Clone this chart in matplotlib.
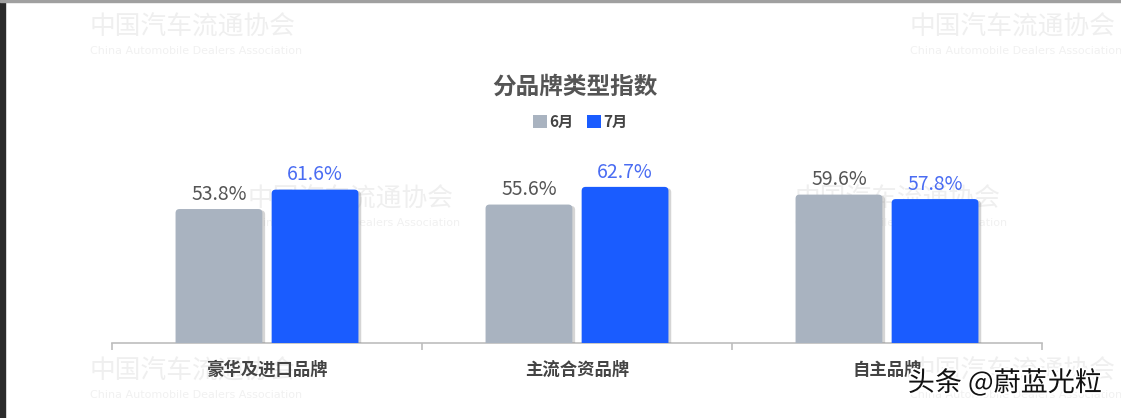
import matplotlib.pyplot as plt
from matplotlib.patches import FancyBboxPatch, Rectangle
import matplotlib.patheffects as pe

plt.rcParams['font.family'] = ['Noto Sans CJK SC', 'DejaVu Sans']

categories = ["豪华及进口品牌", "主流合资品牌", "自主品牌"]
june = [53.8, 55.6, 59.6]
july = [61.6, 62.7, 57.8]
series_names = ["6月", "7月"]
title = "分品牌类型指数"

gray_c = "#a9b3c0"
blue_c = "#1a5cff"

W, H = 1121, 418
fig = plt.figure(figsize=(W / 100, H / 100), dpi=100)
fig.patch.set_facecolor("white")

# faint background watermarks (behind everything)
bg = fig.add_axes([0, 0, 1, 1], zorder=-1)
bg.set_axis_off()
bg.set_xlim(0, W)
bg.set_ylim(H, 0)
wm_pos = [(90, 28), (910, 28), (248, 200), (795, 200), (90, 372), (910, 372)]
for px, py in wm_pos:
    bg.text(px, py, "中国汽车流通协会", fontsize=18.5, color="#efefef",
            va="center", ha="left")
    bg.text(px, py + 23, "China Automobile Dealers Association",
            fontsize=8, color="#f1f1f1", va="center", ha="left",
            family=["DejaVu Sans"])

# frame bits of the screenshot
fig.patches.append(Rectangle((0, 0), 5 / W, 1, transform=fig.transFigure,
                             color="#2b2b2b", zorder=5))
fig.patches.append(Rectangle((0, 1 - 2 / H), 1, 2 / H, transform=fig.transFigure,
                             color="#a0a0a0", zorder=5))

ax = fig.add_axes([112 / W, 75 / H, 930 / W, 243 / H], zorder=1)
ax.set_facecolor("none")
ax.set_xlim(-0.5, 2.5)
ax.set_ylim(0, 243 / 2.49)

bw = 0.28
off = 0.155
# rounding: x units per px vs y units per px
r = 4 / 310
aspect = (1 / 2.49) / (1 / 310)

for i in range(len(categories)):
    for vals, sign, col, tcol in [(june, -1, gray_c, "#555555"), (july, 1, blue_c, "#4a6cf2")]:
        x0 = i + sign * off - bw / 2
        v = vals[i]
        p = FancyBboxPatch((x0, -5), bw, v + 5,
                           boxstyle=f"round,pad=0,rounding_size={r}",
                           mutation_aspect=aspect, facecolor=col, edgecolor="none",
                           zorder=3)
        p.set_path_effects([pe.SimplePatchShadow(offset=(2, -1), shadow_rgbFace="#888888",
                                                 alpha=0.35), pe.Normal()])
        ax.add_patch(p)
        ax.annotate(f"{v}%", (i + sign * off, v), xytext=(0, 3), textcoords="offset points",
                    ha="center", va="bottom", fontsize=14, color=tcol, zorder=4)

for s in ["top", "right", "left"]:
    ax.spines[s].set_visible(False)
ax.spines["bottom"].set_color("#bdbdbd")
ax.spines["bottom"].set_linewidth(1.2)
ax.set_yticks([])
ax.set_xticks(range(len(categories)))
ax.set_xticklabels(categories, fontsize=12.5, fontweight="bold", color="#444444")
ax.tick_params(axis="x", which="major", length=0, pad=13)
ax.set_xticks([-0.5, 0.5, 1.5, 2.5], minor=True)
ax.tick_params(axis="x", which="minor", length=5, color="#bdbdbd", width=1.2)

fig.text(575 / W, 1 - 87 / H, title, fontsize=17, fontweight="bold", color="#555555",
         ha="center", va="center")

# legend
handles = [FancyBboxPatch((0, 0), 1, 1, boxstyle="round,pad=0,rounding_size=0.2",
                          facecolor=gray_c, edgecolor="none"),
           FancyBboxPatch((0, 0), 1, 1, boxstyle="round,pad=0,rounding_size=0.2",
                          facecolor=blue_c, edgecolor="none")]
leg = fig.legend(handles, series_names, loc="center", bbox_to_anchor=(580 / W, 1 - 122 / H),
                 ncol=2, frameon=False, handlelength=0.9, handleheight=0.9, handletextpad=0.15,
                 columnspacing=0.9, prop={"size": 11, "weight": "bold"})
for t in leg.get_texts():
    t.set_color("#444444")

fig.text(1005 / W, 1 - 383 / H, "头条 @蔚蓝光粒", fontsize=19.5, color="#111111",
         ha="center", va="center", zorder=6,
         path_effects=[pe.withStroke(linewidth=3, foreground="white")])

fig.savefig("out.png", dpi=100)
